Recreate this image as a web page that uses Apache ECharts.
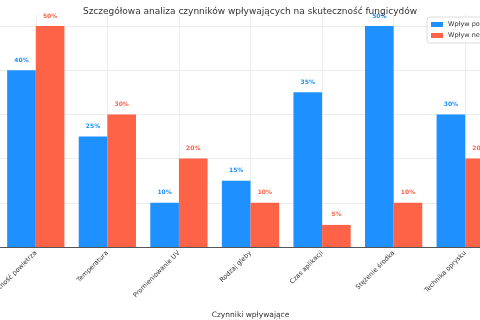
<!DOCTYPE html>
<html>
<head>
<meta charset="utf-8">
<script src="https://cdn.jsdelivr.net/npm/echarts@6/dist/echarts.min.js"></script>
<style>
  html, body { margin: 0; padding: 0; background: #fff; }
  #chart { width: 480px; height: 320px; }
</style>
</head>
<body>
<div id="chart"></div>
<script>
  // dane
  const categories = ['Wilgotność powietrza', 'Temperatura', 'Promieniowanie UV', 'Rodzaj gleby', 'Czas aplikacji', 'Stężenie środka', 'Technika oprysku'];
  const positiveImpact = [40, 25, 10, 15, 35, 50, 30];
  const negativeImpact = [50, 30, 20, 10, 5, 10, 20];
  const seriesNames = ['Wpływ pozytywny', 'Wpływ negatywny'];

  const font = 'DejaVu Sans';
  let chart = echarts.init(document.getElementById('chart'));

  let option = {
    animation: false,
    textStyle: { fontFamily: font },
    title: {
      text: 'Szczegółowa analiza czynników wpływających na skuteczność fungicydów',
      left: 245,
      textAlign: 'center',
      top: 2,
      textStyle: { fontFamily: font, fontSize: 9, fontWeight: 'normal', color: '#333' }
    },
    legend: {
      orient: 'vertical',
      left: 427,
      top: 17,
      itemWidth: 12,
      itemHeight: 5,
      itemGap: 4,
      padding: [4, 6, 4, 4],
      borderColor: '#ddd',
      borderWidth: 1,
      borderRadius: 3,
      backgroundColor: '#fff',
      icon: 'rect',
      textStyle: { fontFamily: font, fontSize: 6.5, color: '#333' },
      data: seriesNames
    },
    grid: {
      left: 0,
      right: -21,
      top: 15,
      bottom: 73,
      outerBoundsMode: 'none'
    },
    xAxis: {
      type: 'category',
      data: categories,
      name: 'Czynniki wpływające',
      nameLocation: 'middle',
      nameGap: 60,
      nameTextStyle: { fontFamily: font, fontSize: 7.5, color: '#333' },
      axisLine: { lineStyle: { color: '#555', width: 1 } },
      axisTick: { show: false },
      axisLabel: {
        rotate: 45,
        margin: 5,
        fontFamily: font,
        fontSize: 6.5,
        color: '#333'
      },
      splitLine: { show: true, alignWithLabel: true, lineStyle: { color: '#ececec', width: 1 } }
    },
    yAxis: {
      type: 'value',
      min: 0,
      max: 52.5,
      interval: 10,
      axisLabel: { show: false },
      axisLine: { show: false },
      axisTick: { show: false },
      splitLine: { show: true, showMaxLine: false, lineStyle: { color: '#ececec', width: 1 } }
    },
    series: [
      {
        name: seriesNames[0],
        type: 'bar',
        data: positiveImpact,
        barGap: '0%',
        barCategoryGap: '20%',
        itemStyle: { color: '#1E90FF' },
        label: {
          show: true,
          position: 'top',
          distance: 7,
          formatter: '{c}%',
          fontFamily: font,
          fontSize: 6,
          fontWeight: 'bold',
          color: '#1E90FF'
        }
      },
      {
        name: seriesNames[1],
        type: 'bar',
        data: negativeImpact,
        barGap: '0%',
        barCategoryGap: '20%',
        itemStyle: { color: '#FF6347' },
        label: {
          show: true,
          position: 'top',
          distance: 7,
          formatter: '{c}%',
          fontFamily: font,
          fontSize: 6,
          fontWeight: 'bold',
          color: '#FF6347'
        }
      }
    ]
  };
  chart.setOption(option);
</script>
</body>
</html>
